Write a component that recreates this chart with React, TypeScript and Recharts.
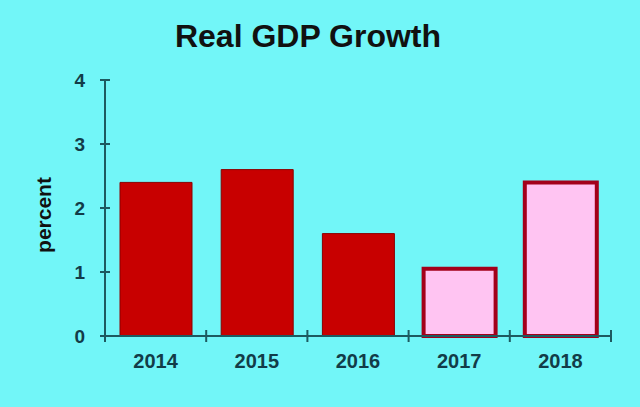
import React from 'react';
import { BarChart, Bar, XAxis, YAxis, Cell } from 'recharts';

const years = ['2014', '2015', '2016', '2017', '2018'];
const growth = [2.4, 2.6, 1.6, 1.05, 2.4];
const projected = [false, false, false, true, true];
const yTicks = [0, 1, 2, 3, 4];

const data = years.map((year, i) => ({ year, growth: growth[i] }));

const BG = '#72f6f8';
const AXIS = '#1d5a60';
const LABEL = '#123c48';
const FONT = '"Liberation Sans", Arial, Helvetica, sans-serif';

const YTick = (props: any) => {
  const { x, y, payload } = props;
  return (
    <g>
      <line x1={x - 5} x2={x + 5} y1={y} y2={y} stroke={AXIS} strokeWidth={2} />
      <text x={x - 20} y={y} dy="0.36em" textAnchor="end" fill={LABEL} fontSize={19} fontWeight="bold" fontFamily={FONT}>
        {payload.value}
      </text>
    </g>
  );
};

const XTick = (props: any) => {
  const { x, y, payload, index } = props;
  const off = payload && typeof payload.offset === 'number' ? payload.offset : 0;
  return (
    <g>
      {index === 0 && off ? (
        <line x1={x - off} x2={x - off} y1={y - 6} y2={y + 6} stroke={AXIS} strokeWidth={2} />
      ) : null}
      {off ? <line x1={x + off} x2={x + off} y1={y - 6} y2={y + 6} stroke={AXIS} strokeWidth={2} /> : null}
      <text x={x} y={y + 32} textAnchor="middle" fill={LABEL} fontSize={20} fontWeight="bold" fontFamily={FONT}>
        {payload.value}
      </text>
    </g>
  );
};

export default function App() {
  return (
    <div style={{ position: 'absolute', left: 0, top: 0, width: 640, height: 407, background: BG, overflow: 'hidden' }}>
      <svg width={640} height={407} style={{ position: 'absolute', left: 0, top: 0 }}>
        <text x={308} y={47} textAnchor="middle" fill="#111" fontSize={32} fontWeight="bold" fontFamily={FONT}>
          Real GDP Growth
        </text>
        <text
          x={51}
          y={215}
          textAnchor="middle"
          transform="rotate(-90 51 215)"
          fill="#111"
          fontSize={21}
          fontWeight="bold"
          fontFamily={FONT}
        >
          percent
        </text>
      </svg>
      <div style={{ position: 'absolute', left: 0, top: 0 }}>
        <BarChart
          width={640}
          height={407}
          data={data}
          margin={{ top: 80, right: 29, bottom: 41, left: 45 }}
          barSize={72}
        >
          <XAxis
            dataKey="year"
            height={30}
            axisLine={{ stroke: AXIS, strokeWidth: 2 }}
            tickLine={false}
            tickSize={0}
            tickMargin={0}
            tick={<XTick />}
            interval={0}
          />
          <YAxis
            width={60}
            domain={[0, 4]}
            ticks={yTicks}
            axisLine={{ stroke: AXIS, strokeWidth: 2 }}
            tickLine={false}
            tickSize={0}
            tickMargin={0}
            tick={<YTick />}
            interval={0}
          />
          <Bar dataKey="growth" isAnimationActive={false}>
            {data.map((d, i) => (
              <Cell
                key={d.year}
                fill={projected[i] ? '#ffc4f2' : '#c80000'}
                stroke={projected[i] ? '#a3001a' : '#8a0000'}
                strokeWidth={projected[i] ? 4 : 1}
              />
            ))}
          </Bar>
        </BarChart>
      </div>
    </div>
  );
}
